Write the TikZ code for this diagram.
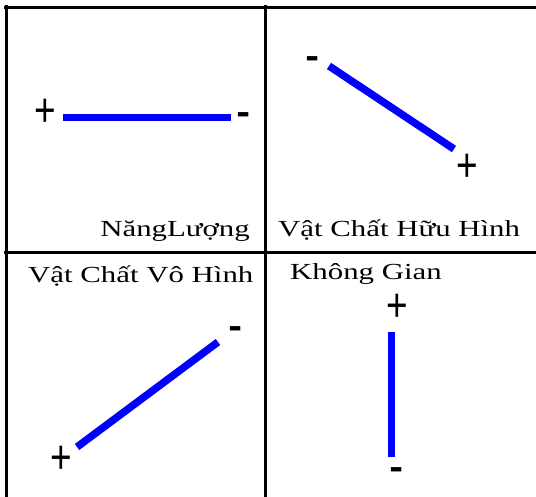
\documentclass[tikz,border=0pt]{standalone}
\usepackage{fontspec}
\setmainfont{Liberation Serif}
\newfontfamily\lblfont[FakeStretch=1.34]{Liberation Serif}
\newfontfamily\signfont{Liberation Sans}
\newcommand{\sgn}[1]{\scalebox{1}[1.28]{#1}}
\newcommand{\dsh}{\scalebox{1.15}[1.5]{-}}
\begin{document}
\begin{tikzpicture}[x=1pt,y=-1pt,
  grid/.style={line width=3pt,black},
  bar/.style={line width=7.5pt,blue,line cap=butt},
  lbl/.style={inner sep=0pt,font=\lblfont\fontsize{23}{26}\selectfont},
  sign/.style={inner sep=0pt,anchor=base,font=\signfont\fontsize{37}{40}\selectfont},
  plus/.style={sign,yshift=-17pt},
  minus/.style={sign,yshift=-14.7pt}]
\useasboundingbox (0,0) rectangle (536,497);
% grid
\coordinate (tl) at (4,7.5); \coordinate (tr) at (536,7.5);
\coordinate (lt) at (6.5,5); \coordinate (lb) at (6.5,497);
\coordinate (mt) at (265.5,5); \coordinate (mb) at (265.5,497);
\coordinate (hl) at (4,253); \coordinate (hr) at (536,253);
\draw[grid] (tl) -- (tr);
\draw[grid] (lt) -- (lb);
\draw[grid] (mt) -- (mb);
\draw[grid] (hl) -- (hr);
% Q1
\coordinate (a1) at (63,117.5); \coordinate (a2) at (231,117.5);
\draw[bar] (a1) -- (a2);
\node[plus] (p1) at (45,110) {\sgn{+}};
\node[minus] (m1) at (244,115) {\dsh};
\node[lbl,anchor=base east] (t1) at (250,237) {NăngLượng};
% Q2
\coordinate (b1) at (329,66); \coordinate (b2) at (454,149);
\draw[bar] (b1) -- (b2);
\node[minus] (m2) at (313,59) {\dsh};
\node[plus] (p2) at (467,165) {\sgn{+}};
\node[lbl,anchor=base west] (t2) at (278,237) {Vật Chất Hữu Hình};
% Q3
\coordinate (c1) at (77,447); \coordinate (c2) at (218,342);
\draw[bar] (c1) -- (c2);
\node[plus] (p3) at (61,456) {\sgn{+}};
\node[minus] (m3) at (236,329) {\dsh};
\node[lbl,anchor=base west] (t3) at (28,283) {Vật Chất Vô Hình};
% Q4
\coordinate (d1) at (391.5,332); \coordinate (d2) at (391.5,457);
\draw[bar] (d1) -- (d2);
\node[plus] (p4) at (397,305) {\sgn{+}};
\node[minus] (m4) at (397,470) {\dsh};
\node[lbl,anchor=base west] (t4) at (290,280) {Không Gian};
\end{tikzpicture}
\end{document}
